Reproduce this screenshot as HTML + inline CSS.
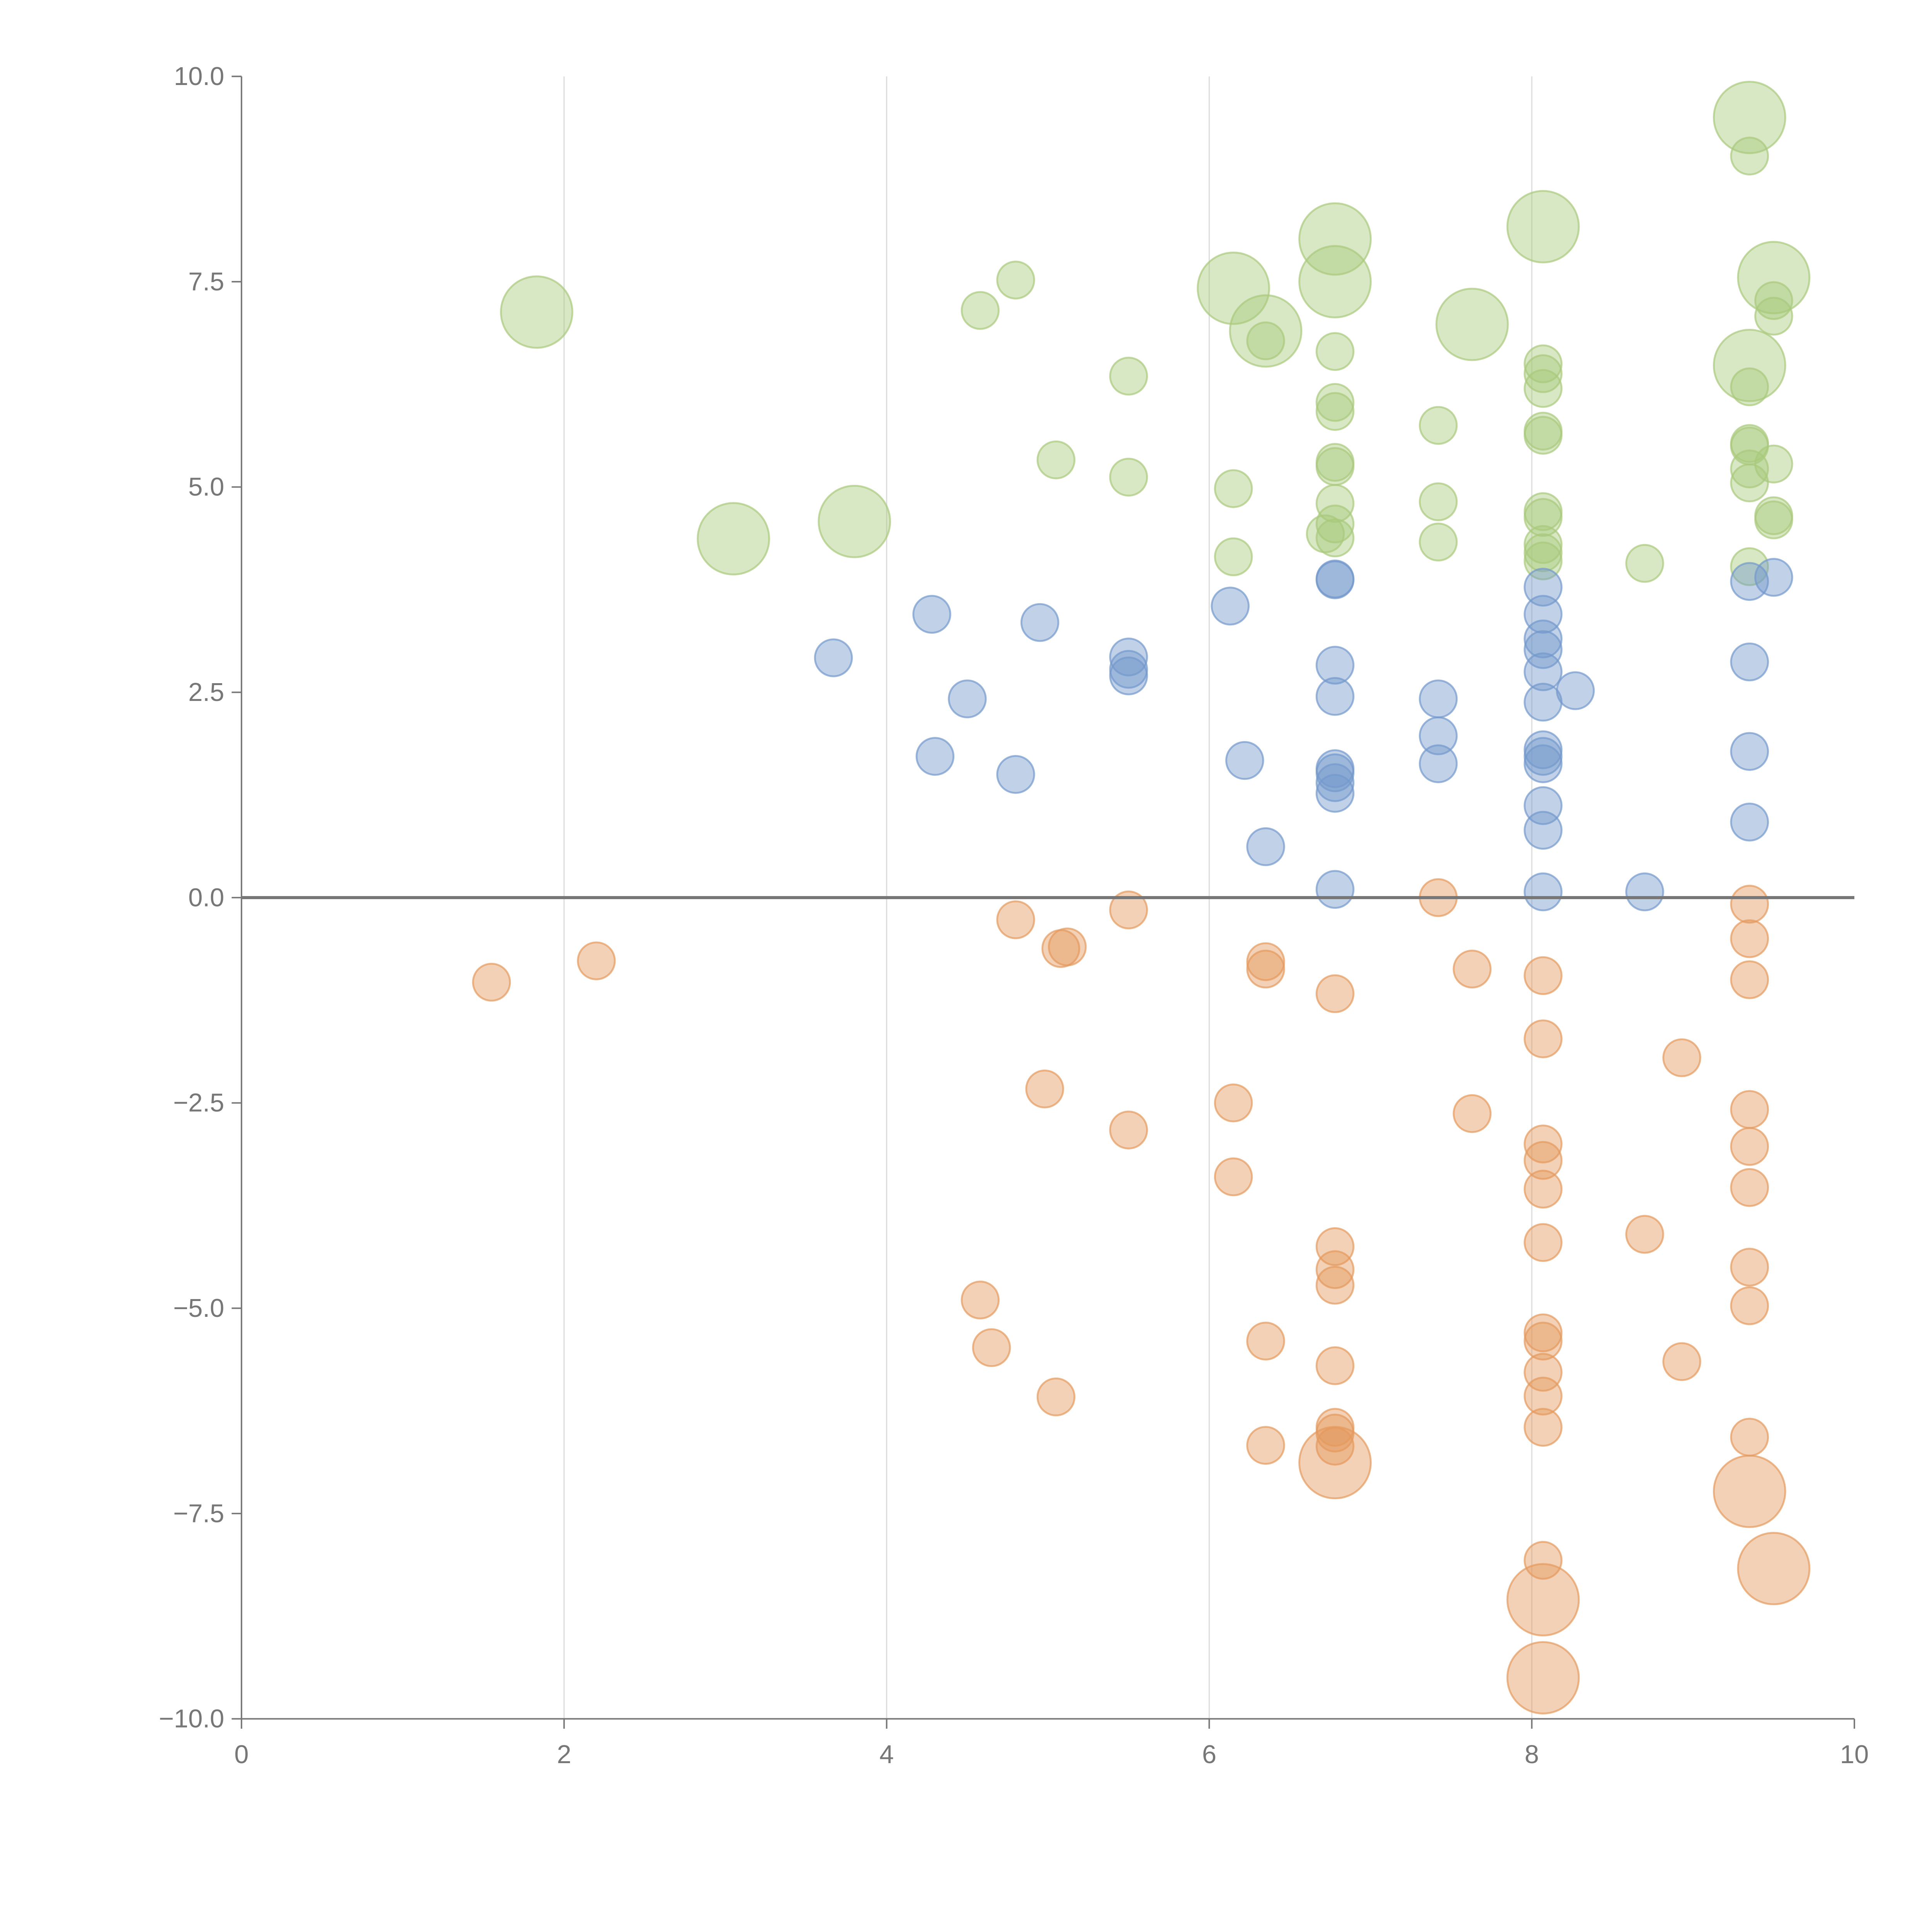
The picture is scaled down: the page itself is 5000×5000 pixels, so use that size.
<!DOCTYPE html>
<html><head><meta charset="utf-8"><style>
html,body{margin:0;padding:0;background:#fff;}
svg{display:block;}
text{font-family:"Liberation Sans",sans-serif;fill:#777;}
</style></head><body>
<svg id="chart" width="5000" height="5000" viewBox="0 0 1568 1568" xmlns="http://www.w3.org/2000/svg">
<g id="grid"></g>
<g id="marks"></g>
<g id="axes"></g>
</svg>
<script>
const xTicks=[0,2,4,6,8,10];
const yTicks=[10,7.5,5,2.5,0,-2.5,-5,-7.5,-10];
const greenX=[1.83,3.05,3.8,6.15,6.35,6.78,6.78,7.63,8.07,9.35,9.5,9.35,4.58,4.8,5.5,5.05,5.5,6.15,6.15,6.35,6.78,6.78,6.78,6.78,6.78,6.78,6.78,6.72,6.78,7.42,7.42,7.42,8.07,8.07,8.07,8.07,8.07,8.07,8.07,8.07,8.07,8.07,8.7,9.35,9.35,9.35,9.35,9.35,9.35,9.35,9.5,9.5,9.5,9.5,9.5];
const greenY=[7.13,4.37,4.58,7.42,6.9,8.02,7.5,6.98,8.17,9.5,7.55,6.48,7.15,7.52,6.35,5.33,5.12,4.98,4.15,6.78,6.65,6.03,5.92,5.3,5.25,4.8,4.55,4.43,4.38,5.75,4.82,4.33,6.5,6.38,6.2,5.68,5.63,4.7,4.63,4.3,4.2,4.1,4.07,9.03,6.22,5.53,5.5,5.22,5.05,4.03,7.27,7.08,5.28,4.65,4.6];
const greenS=[2,2,2,2,2,2,2,2,2,2,2,2,1,1,1,1,1,1,1,1,1,1,1,1,1,1,1,1,1,1,1,1,1,1,1,1,1,1,1,1,1,1,1,1,1,1,1,1,1,1,1,1,1,1,1];
const blueX=[3.67,4.28,4.95,4.5,4.3,4.8,5.5,5.5,5.5,6.13,6.22,6.35,6.78,6.78,6.78,6.78,6.78,6.78,6.78,6.78,6.78,7.42,7.42,7.42,8.07,8.07,8.07,8.07,8.07,8.07,8.27,8.07,8.07,8.07,8.07,8.07,8.07,8.7,9.35,9.5,9.35,9.35,9.35];
const blueY=[2.92,3.45,3.35,2.42,1.72,1.5,2.93,2.78,2.7,3.55,1.67,0.62,3.88,3.87,2.83,2.45,1.57,1.52,1.4,1.27,0.1,2.42,1.97,1.63,3.78,3.45,3.15,3.02,2.75,2.38,2.52,1.8,1.72,1.63,1.12,0.82,0.07,0.07,3.85,3.9,2.87,1.78,0.92];
const orangeX=[1.55,2.2,4.8,5.5,5.08,5.12,6.35,6.35,6.78,7.42,7.63,8.07,8.07,8.93,9.35,9.35,9.35,4.98,5.5,6.15,6.15,7.63,8.07,8.07,8.07,8.07,8.7,9.35,9.35,9.35,9.35,9.35,4.58,4.65,5.05,6.35,6.35,6.78,6.78,6.78,6.78,6.78,6.78,6.78,8.07,8.07,8.07,8.07,8.07,8.07,8.93,9.35,6.78,8.07,8.07,9.35,9.5];
const orangeY=[-1.03,-0.77,-0.27,-0.15,-0.62,-0.6,-0.78,-0.87,-1.17,0.0,-0.87,-0.95,-1.72,-1.95,-0.08,-0.5,-1.0,-2.33,-2.83,-2.5,-3.4,-2.63,-3.0,-3.2,-3.55,-4.2,-4.1,-2.58,-3.03,-3.53,-4.5,-4.97,-4.9,-5.48,-6.08,-5.4,-6.67,-4.25,-4.53,-4.72,-5.7,-6.45,-6.52,-6.68,-5.3,-5.4,-5.78,-6.07,-6.45,-8.07,-5.65,-6.57,-6.88,-8.55,-9.5,-7.23,-8.17];
const orangeS=[1,1,1,1,1,1,1,1,1,1,1,1,1,1,1,1,1,1,1,1,1,1,1,1,1,1,1,1,1,1,1,1,1,1,1,1,1,1,1,1,1,1,1,1,1,1,1,1,1,1,1,1,2,2,2,2,2];

const NS="http://www.w3.org/2000/svg";
const X0=196,X1=1505,Y0=1395,Y1=62;
const sx=v=>X0+(v-0)/10*(X1-X0);
const sy=v=>Y0-(v+10)/20*(Y0-Y1);
function mk(tag,attrs,parent){const e=document.createElementNS(NS,tag);for(const k in attrs)e.setAttribute(k,attrs[k]);parent.appendChild(e);return e;}
const grid=document.getElementById('grid'),marks=document.getElementById('marks'),axes=document.getElementById('axes');

xTicks.forEach(t=>{ if(t>0&&t<10){const l=mk('line',{x1:sx(t),x2:sx(t),y1:Y1,y2:Y0,stroke:'#ddd','stroke-width':1},grid);

}});

function series(xs,ys,ss,color,name){
  xs.forEach((x,i)=>{const s=ss?ss[i]:1;
    const c=mk('circle',{cx:sx(x),cy:sy(ys[i]),r:s===2?29:15,fill:color,'fill-opacity':0.45,stroke:color,'stroke-opacity':0.7,'stroke-width':1.5},marks);
    
    
  });
}
series(greenX,greenY,greenS,'#a9c97c','green');
series(blueX,blueY,null,'#7399cc','blue');
series(orangeX,orangeY,orangeS,'#e49a5e','orange');

const z=mk('line',{x1:X0,x2:X1,y1:sy(0),y2:sy(0),stroke:'#777','stroke-width':2.5},axes);


const ya=mk('line',{x1:X0,x2:X0,y1:Y1,y2:Y0,stroke:'#777','stroke-width':1.2},axes);


const xa=mk('line',{x1:X0,x2:X1,y1:Y0,y2:Y0,stroke:'#777','stroke-width':1.2},axes);


yTicks.forEach(t=>{
  mk('line',{x1:X0-8,x2:X0,y1:sy(t),y2:sy(t),stroke:'#777','stroke-width':1.2},axes);
  const tx=mk('text',{x:X0-14,y:sy(t)+7,'text-anchor':'end','font-size':21},axes);
  tx.textContent=(t<0?'\u2212':'')+Math.abs(t).toFixed(1);
  
  
});
xTicks.forEach(t=>{
  mk('line',{x1:sx(t),x2:sx(t),y1:Y0,y2:Y0+8,stroke:'#777','stroke-width':1.2},axes);
  const tx=mk('text',{x:sx(t),y:Y0+36,'text-anchor':'middle','font-size':21},axes);
  tx.textContent=String(t);
  
  
});
</script>
</body></html>
